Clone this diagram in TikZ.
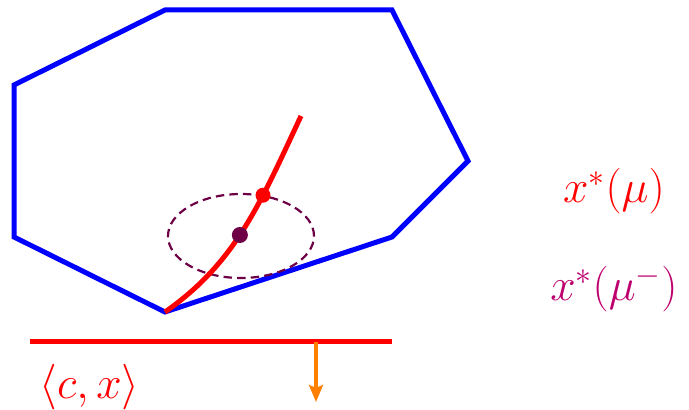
\documentclass[tikz,border=0pt]{standalone}
\usetikzlibrary{arrows.meta,shapes.geometric}
\definecolor{dotpurple}{RGB}{110,0,70}
\definecolor{labpurple}{RGB}{190,0,110}
\tikzset{
  poly/.style={draw=blue, line width=2.5pt, line join=miter},
  path/.style={draw=red, line width=2.5pt},
  ell/.style={draw=dotpurple, line width=1.1pt, dash pattern=on 4.2pt off 2.6pt},
  dotnode/.style={circle, inner sep=0pt, minimum size=#1},
  lab/.style={font=\huge, scale=1.1, anchor=base}
}
\begin{document}
\begin{tikzpicture}[x=0.5pt,y=-0.5pt]
\useasboundingbox (0,0) rectangle (689,410);
% polygon
\coordinate (p1) at (14,85);
\coordinate (p2) at (165,10);
\coordinate (p3) at (392,10);
\coordinate (p4) at (468,161);
\coordinate (p5) at (392,237);
\coordinate (p6) at (165,312);
\coordinate (p7) at (14,237);
\draw[poly] (p1) -- (p2) -- (p3) -- (p4) -- (p5) -- (p6) -- (p7) -- cycle;
% ellipse
\node[ell, ellipse, minimum width=73pt, minimum height=42pt, inner sep=0pt] (ellp) at (241,236) {};
% central path
\coordinate (cend) at (301,116);
\draw[path] (p6) .. controls (235,263) and (259,206) .. (cend)
  node[pos=0.47, dotnode=8pt, fill=dotpurple] (dmum) {}
  node[pos=0.67, dotnode=7.5pt, fill=red] (dmu) {};
% objective line
\coordinate (la) at (30,342);
\coordinate (lb) at (392,342);
\draw[draw=red, line width=2.5pt] (la) -- (lb);
\coordinate (ao) at (316,342);
\coordinate (ae) at (316,402);
\draw[draw=orange, line width=2pt, -{Stealth[length=8.5pt,width=7pt,inset=1.5pt]}] (ao) -- (ae);
% labels
\node[lab, text=red] (l1) at (614,203) {$x^*(\mu)$};
\node[lab, text=labpurple] (l2) at (614,301) {$x^*(\mu^-)$};
\node[lab, text=red] (l3) at (89.5,398) {$\langle c,x\rangle$};
\end{tikzpicture}
\end{document}
